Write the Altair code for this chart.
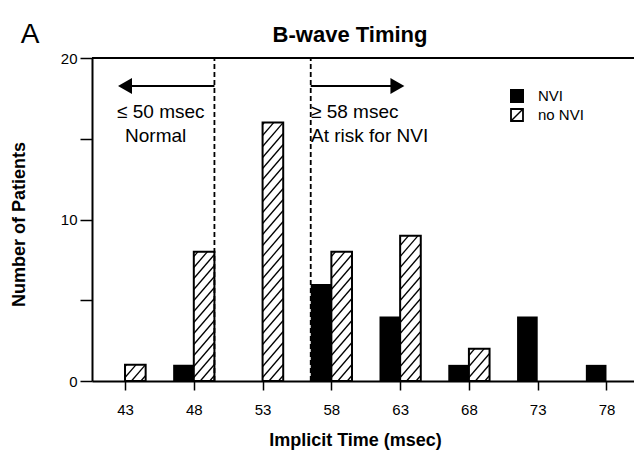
import altair as alt
import pandas as pd

# ---- data ----
times = [43, 48, 53, 58, 63, 68, 73, 78]
nvi = [0, 1, 0, 6, 4, 1, 4, 1]
no_nvi = [1, 8, 16, 8, 9, 2, 0, 0]
thresholds = [49.5, 56.5]
bar_w = 1.5

arrow_lines = pd.DataFrame({"x": [49.5, 56.5], "x2": [43.2, 62.6], "y": [18.27, 18.27]})
arrow_heads = pd.DataFrame({"x": [43.0, 62.8], "y": [18.27, 18.27],
                            "shape": ["triangle-left", "triangle-right"]})
notes = pd.DataFrame({
    "x": [42.42, 43.0, 56.52, 56.52],
    "y": [16.66, 15.17, 16.66, 15.17],
    "t": ["≤ 50 msec", "Normal", "≥ 58 msec", "At risk for NVI"],
})

W, H = 542, 323
xdom = [40.6, 80]
ydom = [0, 20]
px_x = W / (xdom[1] - xdom[0])
px_y = H / (ydom[1] - ydom[0])

FONT = "Liberation Sans"

bars_nvi = pd.DataFrame({"x": [t - bar_w for t, v in zip(times, nvi) if v > 0],
                         "x2": [t for t, v in zip(times, nvi) if v > 0],
                         "y": [v for v in nvi if v > 0]})
bars_no = pd.DataFrame({"x": [t for t, v in zip(times, no_nvi) if v > 0],
                        "x2": [t + bar_w for t, v in zip(times, no_nvi) if v > 0],
                        "y": [v for v in no_nvi if v > 0]})

# hatch segments derived from the no-NVI bars
rise, spacing = 24.0, 11.0
segs = []
for x0, hv in zip(bars_no["x"], bars_no["y"]):
    Wb = bar_w * px_x
    Hb = hv * px_y
    c = -rise + spacing / 2
    while c < Hb:
        u0 = max(0.0, -c * Wb / rise)
        u1 = min(Wb, (Hb - c) * Wb / rise)
        if u1 > u0:
            segs.append({"x": x0 + u0 / px_x, "y": (c + rise * u0 / Wb) / px_y,
                         "x2": x0 + u1 / px_x, "y2": (c + rise * u1 / Wb) / px_y})
        c += spacing
hatch = pd.DataFrame(segs)

xs = alt.Scale(domain=xdom, nice=False, zero=False)
ys = alt.Scale(domain=ydom, nice=False)

xaxis = alt.Axis(values=times, title="Implicit Time (msec)", grid=False,
                 tickSize=9, tickWidth=1.5, tickColor="black",
                 domainColor="black", domainWidth=2,
                 labelFont=FONT, labelFontSize=15, labelColor="black", labelPadding=12,
                 titleFont=FONT, titleFontSize=18, titleFontWeight="bold", titleColor="black",
                 titleX=263, titleY=59, titleBaseline="middle", titleAlign="center")
yaxis = alt.Axis(values=[0, 5, 10, 15, 20], title="Number of Patients", grid=False,
                 labelExpr="datum.value % 10 == 0 ? datum.label : ''",
                 tickSize=12, tickWidth=1.5, tickColor="black",
                 domainColor="black", domainWidth=2,
                 labelFont=FONT, labelFontSize=15, labelColor="black", labelPadding=3,
                 titleFont=FONT, titleFontSize=18, titleFontWeight="bold", titleColor="black",
                 titleX=-73, titleY=166, titleAngle=270, titleBaseline="middle", titleAlign="center")

base_axes = alt.Chart(bars_nvi).mark_rect(color="black").encode(
    x=alt.X("x:Q", scale=xs, axis=xaxis), x2="x2:Q",
    y=alt.Y("y:Q", scale=ys, axis=yaxis), y2=alt.datum(0),
)

no_fill = alt.Chart(bars_no).mark_rect(fill="white").encode(
    x=alt.X("x:Q", scale=xs), x2="x2:Q", y=alt.Y("y:Q", scale=ys), y2=alt.datum(0))
hatch_layer = alt.Chart(hatch).mark_rule(color="black", strokeWidth=1.3).encode(
    x=alt.X("x:Q", scale=xs), x2="x2:Q", y=alt.Y("y:Q", scale=ys), y2="y2:Q")
no_outline = alt.Chart(bars_no).mark_rect(fillOpacity=0, stroke="black", strokeWidth=2).encode(
    x=alt.X("x:Q", scale=xs), x2="x2:Q", y=alt.Y("y:Q", scale=ys), y2=alt.datum(0))

dashed = alt.Chart(pd.DataFrame({"x": thresholds})).mark_rule(
    color="black", strokeWidth=1.8, strokeDash=[5, 3]).encode(
    x=alt.X("x:Q", scale=xs), y=alt.datum(0), y2=alt.datum(20))

arrows = alt.Chart(arrow_lines).mark_rule(color="black", strokeWidth=2).encode(
    x=alt.X("x:Q", scale=xs), x2="x2:Q", y=alt.Y("y:Q", scale=ys))
heads = alt.Chart(arrow_heads).mark_point(filled=True, color="black", size=260, opacity=1).encode(
    x=alt.X("x:Q", scale=xs), y=alt.Y("y:Q", scale=ys),
    shape=alt.Shape("shape:N", scale=None, legend=None))

note_text = alt.Chart(notes).mark_text(font=FONT, fontSize=19, align="left",
                                       baseline="middle", color="black").encode(
    x=alt.X("x:Q", scale=xs), y=alt.Y("y:Q", scale=ys), text="t:N")

one = pd.DataFrame({"a": [0]})
top_line = alt.Chart(one).mark_rule(color="black", strokeWidth=2).encode(
    x=alt.value(0), x2=alt.value(W), y=alt.value(0))

leg_black = alt.Chart(one).mark_rect(color="black").encode(
    x=alt.value(418), x2=alt.value(432), y=alt.value(31), y2=alt.value(45))
leg_white = alt.Chart(one).mark_rect(fill="white", stroke="black", strokeWidth=1.8).encode(
    x=alt.value(419), x2=alt.value(431), y=alt.value(51), y2=alt.value(63))
leg_diag = alt.Chart(one).mark_rule(color="black", strokeWidth=1.4).encode(
    x=alt.value(419), x2=alt.value(431), y=alt.value(63), y2=alt.value(51))
leg_labels = pd.DataFrame({"t": ["NVI", "no NVI"], "yy": [38, 57]})
leg_text = alt.Chart(leg_labels).mark_text(font=FONT, fontSize=15, align="left",
                                           baseline="middle", color="black").encode(
    x=alt.value(446), y=alt.Y("yy:Q", scale=None), text="t:N")

titles = pd.DataFrame({"t": ["B-wave Timing"]})
title_mark = alt.Chart(titles).mark_text(font=FONT, fontSize=22, fontWeight="bold",
                                         align="center", baseline="middle", color="black").encode(
    x=alt.value(258), y=alt.value(-23), text="t:N")
panel = alt.Chart(pd.DataFrame({"t": ["A"]})).mark_text(font=FONT, fontSize=28,
                                                         align="center", baseline="middle",
                                                         color="black").encode(
    x=alt.value(-62), y=alt.value(-23), text="t:N")

chart = alt.layer(
    base_axes, no_fill, hatch_layer, no_outline, dashed, arrows, heads, note_text,
    top_line, leg_black, leg_white, leg_diag, leg_text, title_mark, panel,
).properties(
    width=W, height=H,
    autosize=alt.AutoSizeParams(type="none"),
    padding={"left": 84, "top": 50, "right": 0, "bottom": 72},
).configure_view(stroke=None).configure(background="white")

chart.save("out.html", embed_options={"renderer": "svg", "actions": False})
